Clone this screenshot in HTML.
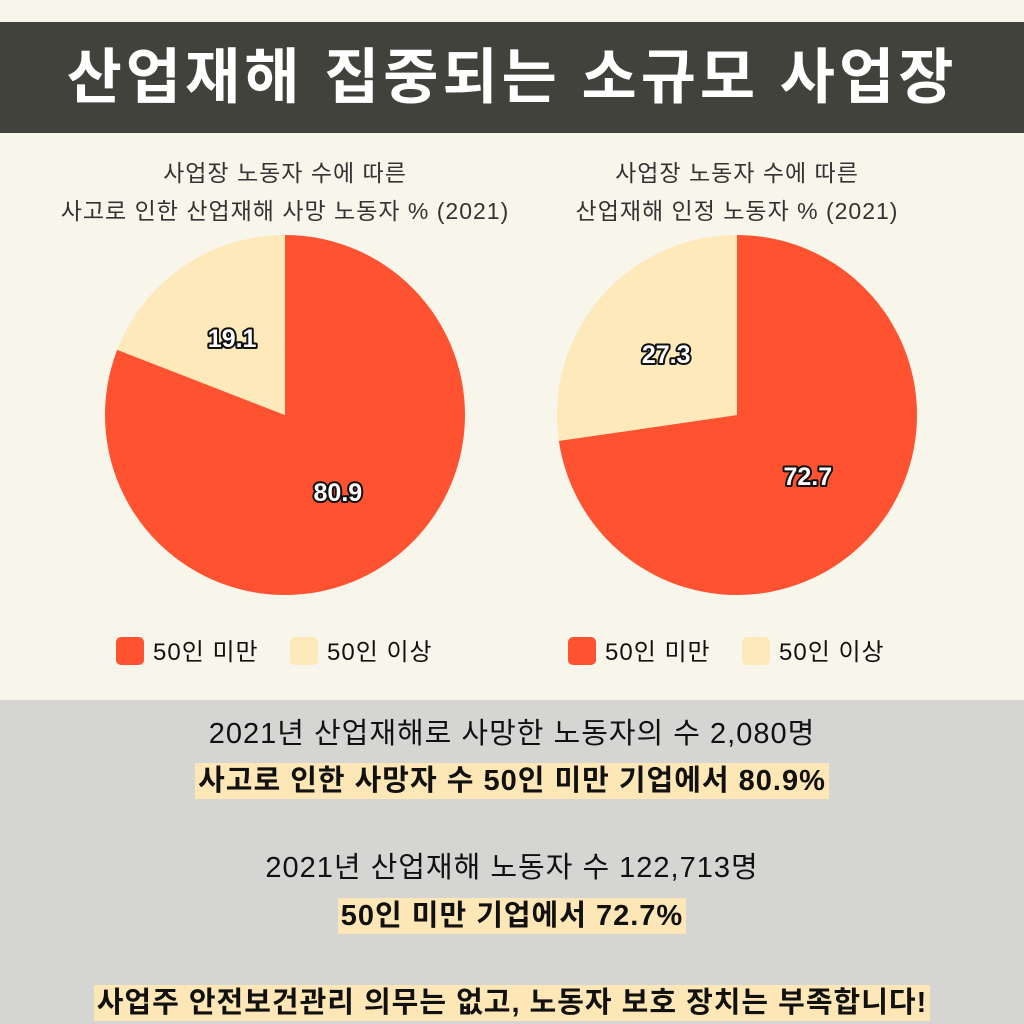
<!DOCTYPE html>
<html><head><meta charset="utf-8"><style>
body{margin:0;width:1024px;height:1024px;overflow:hidden;font-family:"Liberation Sans","Noto Sans CJK KR",sans-serif;}
#top{position:absolute;left:0;top:0;width:1024px;height:700px;background:#f8f5ea;}
#banner{position:absolute;left:0;top:22px;width:1024px;height:111px;background:#42423d;color:#fff;font-weight:bold;font-size:60px;text-align:center;line-height:111px;letter-spacing:4px}
#bottom{position:absolute;left:0;top:700px;width:1024px;height:324px;background:#d5d5d3;}
.ln{position:absolute;left:0;width:1024px;text-align:center;font-size:29px;color:#111;letter-spacing:1px}
.hl{background:#fde7b6;font-weight:bold;padding:2px 3px}
svg{position:absolute;left:0;top:0}
</style></head><body>
<div id="top"></div>
<div id="banner">산업재해 집중되는 소규모 사업장</div>
<svg id="chart" width="1024" height="700"></svg>
<div id="bottom">
<div class="ln" style="top:10px">2021년 산업재해로 사망한 노동자의 수 2,080명</div>
<div class="ln" style="top:57px"><span class="hl">사고로 인한 사망자 수 50인 미만 기업에서 80.9%</span></div>
<div class="ln" style="top:144px">2021년 산업재해 노동자 수 122,713명</div>
<div class="ln" style="top:192px"><span class="hl">50인 미만 기업에서 72.7%</span></div>
<div class="ln" style="top:279px"><span class="hl">사업주 안전보건관리 의무는 없고, 노동자 보호 장치는 부족합니다!</span></div>
</div>
<script>
const categories=["50인 미만","50인 이상"];
const deathValues=[80.9,19.1];
const injuryValues=[72.7,27.3];
const titles=[["사업장 노동자 수에 따른","사고로 인한 산업재해 사망 노동자 % (2021)"],["사업장 노동자 수에 따른","산업재해 인정 노동자 % (2021)"]];
const colors=["#fe5230","#fde9b9"];
const svg=document.getElementById('chart');
const NS='http://www.w3.org/2000/svg';
function mk(t,a){const e=document.createElementNS(NS,t);for(const k in a)e.setAttribute(k,a[k]);svg.appendChild(e);return e;}
function pt(cx,cy,r,f){const a=f*2*Math.PI;return [cx+r*Math.sin(a),cy-r*Math.cos(a)];}
function pie(vals,cx,cy,r,ttl,idx){
  ttl.forEach((t,i)=>{const e=mk('text',{x:cx,y:181+i*38,'text-anchor':'middle','font-size':23,'letter-spacing':1,fill:'#333'});e.textContent=t;
  
  });
  const tot=vals.reduce((a,b)=>a+b,0);let acc=0;
  vals.forEach((v,i)=>{const f0=acc/tot,f1=(acc+v)/tot;acc+=v;
    const p0=pt(cx,cy,r,f0),p1=pt(cx,cy,r,f1);
    const e=mk('path',{d:`M${cx},${cy}L${p0[0]},${p0[1]}A${r},${r} 0 ${f1-f0>0.5?1:0} 1 ${p1[0]},${p1[1]}Z`,fill:colors[i]});
    
    
    const m=pt(cx,cy,r*0.52,(f0+f1)/2);
    const t=mk('text',{x:m[0],y:m[1]+9,'text-anchor':'middle','font-size':25,'font-weight':'bold',fill:'#fff',stroke:'#111','stroke-width':4,'paint-order':'stroke','stroke-linejoin':'round'});
    t.textContent=v.toFixed(1);
    
    
  });
  const lx=[cx-169,cx+5];
  categories.forEach((c,i)=>{
    const r2=mk('rect',{x:lx[i],y:637,width:28,height:28,rx:5,fill:colors[i]});
    
    
    const t=mk('text',{x:lx[i]+37,y:660,'font-size':24,'letter-spacing':1,fill:'#111'});t.textContent=c;
    
    
  });
}
pie(deathValues,285,415,180,titles[0],1);
pie(injuryValues,737,415,180,titles[1],2);
</script>
</body></html>
